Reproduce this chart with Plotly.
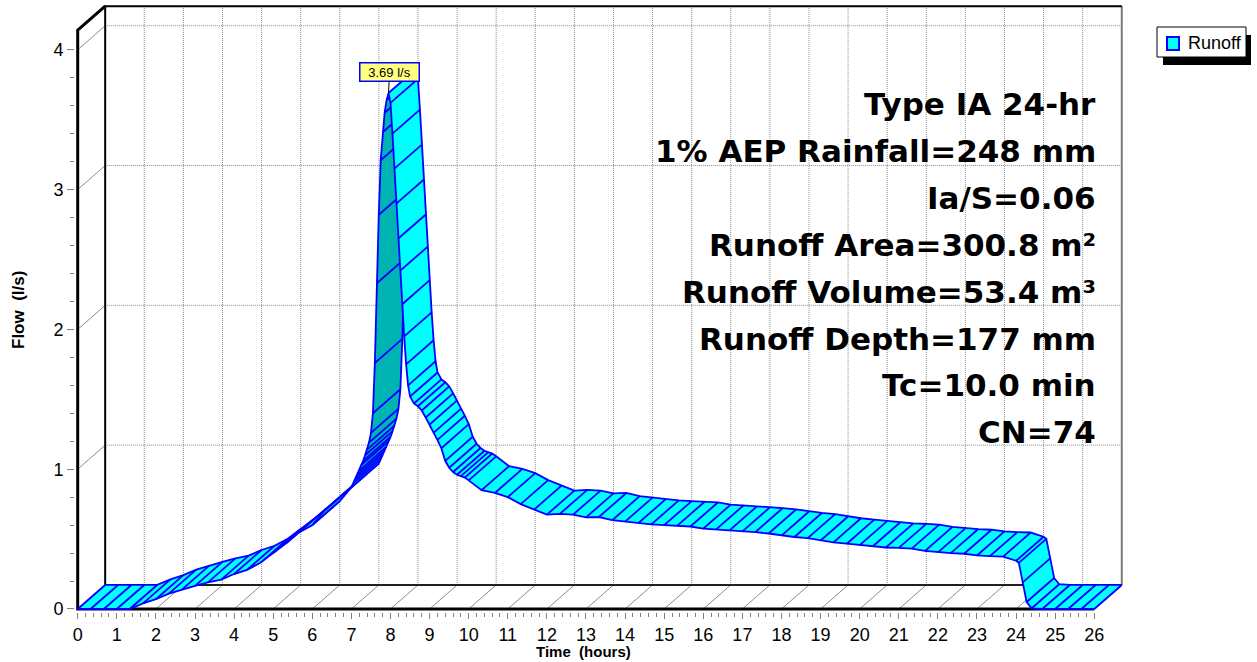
import numpy as np
import plotly.graph_objects as go

# ---------------- data ----------------
time_hr = [0.00, 0.33, 0.67, 1.00, 1.33, 1.67, 2.00, 2.33, 2.67, 3.00, 3.33, 3.67,
           4.00, 4.33, 4.67, 5.00, 5.33, 5.67, 6.00, 6.33, 6.67, 7.00,
           7.05, 7.10, 7.15, 7.20, 7.25, 7.30, 7.35, 7.40, 7.45, 7.50, 7.55,
           7.60, 7.65, 7.70, 7.75, 7.80, 7.85, 7.90, 7.95,
           8.00, 8.05, 8.10, 8.15, 8.20, 8.25, 8.30, 8.35, 8.40, 8.45, 8.50,
           8.60, 8.70, 8.80, 8.90, 9.00, 9.10, 9.20, 9.30, 9.40, 9.50, 9.60,
           9.70, 9.80, 9.90, 10.00,
           10.33, 10.67, 11.00, 11.33, 11.67, 12.00, 12.33, 12.67, 13.00, 13.33,
           13.67, 14.00, 14.33, 14.67, 15.00, 15.33, 15.67, 16.00, 16.33, 16.67,
           17.00, 17.33, 17.67, 18.00, 18.33, 18.67, 19.00, 19.33, 19.67, 20.00,
           20.33, 20.67, 21.00, 21.33, 21.67, 22.00, 22.33, 22.67, 23.00, 23.33,
           23.67, 24.00, 24.07, 24.17, 24.27, 24.40, 24.67, 25.00, 25.33, 25.67,
           26.00]
flow_ls = [0, 0, 0, 0, 0, 0.04, 0.07, 0.11, 0.14, 0.165, 0.19, 0.21,
           0.25, 0.28, 0.33, 0.40, 0.47, 0.55, 0.60, 0.71, 0.79, 0.87,
           0.90, 0.93, 0.96, 0.99, 1.03, 1.06, 1.10, 1.14, 1.19, 1.26, 1.40,
           1.76, 2.33, 2.82, 3.21, 3.41, 3.55, 3.64, 3.69,
           3.62, 3.40, 3.15, 2.90, 2.65, 2.42, 2.18, 1.95, 1.75, 1.60, 1.52,
           1.47, 1.45, 1.42, 1.37, 1.32, 1.26, 1.21, 1.15, 1.06, 1.01, 0.98,
           0.96, 0.95, 0.94, 0.92,
           0.85, 0.83, 0.80, 0.75, 0.71, 0.675, 0.68, 0.675, 0.655, 0.658,
           0.635, 0.625, 0.612, 0.605, 0.60, 0.595, 0.59, 0.575, 0.57, 0.562,
           0.555, 0.55, 0.54, 0.525, 0.515, 0.507, 0.49, 0.477, 0.467, 0.457,
           0.447, 0.44, 0.437, 0.432, 0.415, 0.405, 0.40, 0.395, 0.383, 0.378,
           0.375, 0.345, 0.33, 0.19, 0.05, 0.005, 0, 0, 0, 0,
           0]
peak_time = 7.95
peak_flow = 3.69
peak_label = "3.69 l/s"
series_name = "Runoff"
x_ticks = list(range(0, 27))
y_ticks = [0, 1, 2, 3, 4]
x_minor = [round(i * 0.2, 1) for i in range(0, 131) if i % 5 != 0]
y_minor = [round(i * 0.2, 1) for i in range(0, 21) if i % 5 != 0]
info_lines = ["Type IA 24-hr", "1% AEP Rainfall=248 mm", "Ia/S=0.06",
              "Runoff Area=300.8 m²", "Runoff Volume=53.4 m³",
              "Runoff Depth=177 mm", "Tc=10.0 min", "CN=74"]
x_title = "Time\u00a0 (hours)"
y_title = "Flow\u00a0 (l/s)"

# ---------------- layout constants ----------------
W, H = 1257, 662
ML, MR, MT, MB = 75, 133, 4, 50
X_RANGE = [-0.069, 26.76]
Y_RANGE = [-0.0215, 4.3276]
X_MAX, Y_MAX = 26.0, 4.14      # axis extents of the box
OX, OY = 0.703, 0.172          # 3-D depth offset in data units
CYAN, TEAL, BLUE = "#00FFFF", "#00B4B4", "#0000FF"
TXT = "Liberation Sans, Arial, sans-serif"


def px2paper_x(px):
    return (px - ML) / (W - ML - MR)


def px2paper_y(py):
    return (H - MB - py) / (H - MT - MB)


fig = go.Figure()


def add_lines(xs, ys, color, width, dash=None):
    fig.add_trace(go.Scatter(x=xs, y=ys, mode="lines",
                             line=dict(color=color, width=width, dash=dash),
                             hoverinfo="skip", showlegend=False))


# back wall dotted grid
gx, gy = [], []
for k in x_ticks[1:-1]:
    gx += [k + OX, k + OX, None]
    gy += [OY, Y_MAX + OY, None]
for k in y_ticks[1:]:
    gx += [OX, X_MAX + OX, None]
    gy += [k + OY, k + OY, None]
add_lines(gx, gy, "#8c8c8c", 1, "1px,1px")

# floor and side-wall diagonals
dx, dy = [], []
for k in x_ticks[1:-1]:
    dx += [k, k + OX, None]
    dy += [0, OY, None]
for k in y_ticks[1:]:
    dx += [0, OX, None]
    dy += [k, k + OY, None]
add_lines(dx, dy, "#8c8c8c", 1)

# box frame
add_lines([X_MAX + OX, X_MAX + OX], [OY, Y_MAX + OY], "#7a7a7a", 2)
add_lines([OX, X_MAX + OX], [OY, OY], "#202020", 2)
add_lines([OX, OX, X_MAX + OX], [OY, Y_MAX + OY, Y_MAX + OY], "black", 2)
add_lines([X_MAX, 0, 0, OX], [0, 0, Y_MAX, Y_MAX + OY], "black", 3)

# ---------------- ribbon ----------------
t = np.array(time_hr, float)
q = np.array(flow_ls, float)
top_visible = (np.diff(t) * OY - np.diff(q) * OX) >= 0
runs, s = [], 0
for i in range(1, len(top_visible)):
    if top_visible[i] != top_visible[i - 1]:
        runs.append((s, i, top_visible[i - 1]))
        s = i
runs.append((s, len(top_visible), top_visible[-1]))

for (s, e, vis) in runs:
    fx, fy = [], []
    for j in range(s, e):
        fx += [t[j], t[j + 1], t[j + 1] + OX, t[j] + OX, t[j], None]
        fy += [q[j], q[j + 1], q[j + 1] + OY, q[j] + OY, q[j], None]
    fig.add_trace(go.Scatter(x=fx, y=fy, mode="lines", fill="toself",
                             fillcolor=CYAN if vis else TEAL,
                             line=dict(width=0, color=BLUE),
                             hoverinfo="skip", showlegend=False,
                             name=series_name))
    lx = list(t[s:e + 1]) + [None] + list(t[s:e + 1] + OX) + [None]
    ly = list(q[s:e + 1]) + [None] + list(q[s:e + 1] + OY) + [None]
    for j in range(s, e + 1):
        lx += [t[j], t[j] + OX, None]
        ly += [q[j], q[j] + OY, None]
    add_lines(lx, ly, BLUE, 1.8)

# ---------------- axes ----------------
fig.update_xaxes(range=X_RANGE, showgrid=False, zeroline=False, showline=False,
                 tickmode="array", tickvals=x_ticks,
                 ticktext=[str(v) for v in x_ticks],
                 ticks="outside", ticklen=6, tickwidth=1, tickcolor="#808080",
                 tickfont=dict(family=TXT, size=18, color="black"),
                 minor=dict(tickmode="array", tickvals=x_minor, ticks="outside",
                            ticklen=4, tickwidth=1, tickcolor="#808080",
                            showgrid=False))
fig.update_yaxes(range=Y_RANGE, showgrid=False, zeroline=False, showline=False,
                 tickmode="array", tickvals=y_ticks,
                 ticktext=[str(v) for v in y_ticks],
                 ticks="outside", ticklen=7, tickwidth=1, tickcolor="#808080",
                 tickfont=dict(family=TXT, size=18, color="black"),
                 minor=dict(tickmode="array", tickvals=y_minor, ticks="outside",
                            ticklen=4, tickwidth=1, tickcolor="#808080",
                            showgrid=False))

annotations = []
# axis titles
annotations.append(dict(text="<b>" + x_title + "</b>", xref="paper", yref="paper",
                        x=px2paper_x(583), y=px2paper_y(651), showarrow=False,
                        xanchor="center", yanchor="middle",
                        font=dict(family=TXT, size=15, color="black")))
annotations.append(dict(text="<b>" + y_title + "</b>", xref="paper", yref="paper",
                        x=px2paper_x(18), y=px2paper_y(310), showarrow=False,
                        textangle=-90, xanchor="center", yanchor="middle",
                        font=dict(family=TXT, size=17, color="black")))
# info block
for i, line in enumerate(info_lines):
    annotations.append(dict(text="<b>" + line + "</b>", xref="paper", yref="paper",
                            x=px2paper_x(1098), y=px2paper_y(104 + i * 46.9),
                            showarrow=False, xanchor="right", yanchor="middle",
                            font=dict(family="DejaVu Sans", size=31, color="black")))
# peak label
annotations.append(dict(text=peak_label, x=peak_time, y=peak_flow, xref="x", yref="y",
                        showarrow=True, arrowhead=0, arrowwidth=1, arrowcolor="black",
                        ax=1, ay=-21, width=56, height=15, borderpad=1,
                        bgcolor="#FFFF80", bordercolor=BLUE, borderwidth=1.5,
                        font=dict(family=TXT, size=13, color="black")))
# legend text
annotations.append(dict(text=series_name, xref="paper", yref="paper",
                        x=px2paper_x(1186), y=px2paper_y(43), showarrow=False,
                        xanchor="left", yanchor="middle",
                        font=dict(family=TXT, size=18, color="black")))

shapes = [
    dict(type="rect", xref="paper", yref="paper", layer="above",
         x0=px2paper_x(1163), x1=px2paper_x(1251), y0=px2paper_y(35), y1=px2paper_y(65),
         fillcolor="black", line=dict(width=0)),
    dict(type="rect", xref="paper", yref="paper", layer="above",
         x0=px2paper_x(1157), x1=px2paper_x(1246), y0=px2paper_y(27), y1=px2paper_y(57),
         fillcolor="white", line=dict(color="black", width=1)),
    dict(type="rect", xref="paper", yref="paper", layer="above",
         x0=px2paper_x(1167), x1=px2paper_x(1179), y0=px2paper_y(37), y1=px2paper_y(50),
         fillcolor=CYAN, line=dict(color=BLUE, width=2)),
]

fig.update_layout(width=W, height=H, margin=dict(l=ML, r=MR, t=MT, b=MB),
                  plot_bgcolor="white", paper_bgcolor="white",
                  showlegend=False, annotations=annotations, shapes=shapes)

fig.write_html("out.html", config={"displayModeBar": False},
               post_script="document.body.style.margin='0px';"
                           "document.body.style.overflow='hidden';")
